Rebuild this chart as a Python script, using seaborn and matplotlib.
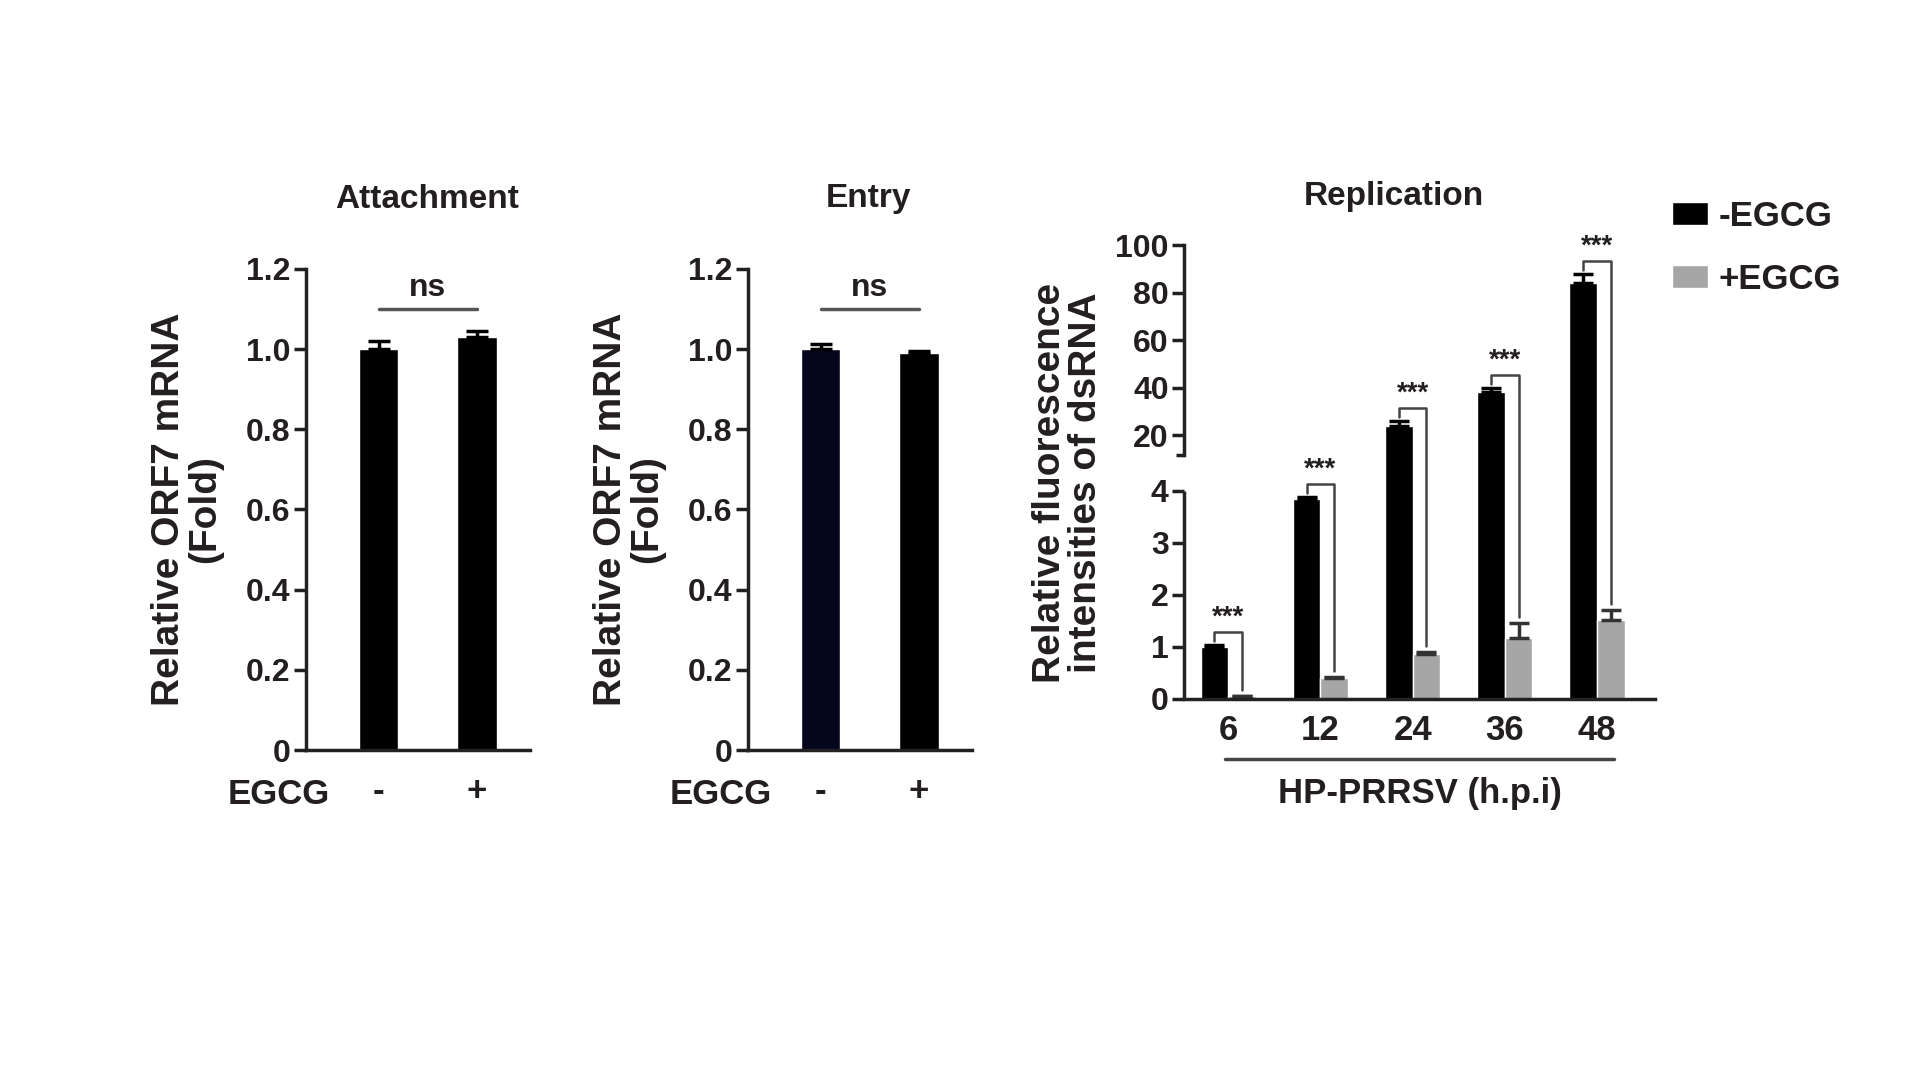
import numpy as np
import pandas as pd
import matplotlib
matplotlib.use("Agg")
import matplotlib.pyplot as plt
import seaborn as sns

# ---- data ----
egcg_levels = ["-", "+"]
attach_vals = [1.00, 1.03]
attach_err = [0.02, 0.015]
entry_vals = [1.00, 0.99]
entry_err = [0.012, 0.006]

hpi = ["6", "12", "24", "36", "48"]
minus_vals = [1.0, 3.84, 23.8, 38.0, 84.0]
minus_err = [0.04, 0.05, 2.2, 1.8, 4.0]
plus_vals = [0.05, 0.40, 0.86, 1.18, 1.51]
plus_err = [0.01, 0.03, 0.04, 0.28, 0.20]
treat_levels = ["-EGCG", "+EGCG"]

TXT = "#231f20"
GRAY = "#a6a6a6"
LW = 2.5

sns.set_style("ticks")
plt.rcParams["font.family"] = ["Liberation Sans", "DejaVu Sans"]
plt.rcParams["font.weight"] = "bold"
plt.rcParams["axes.labelweight"] = "bold"
plt.rcParams["text.color"] = TXT
plt.rcParams["axes.labelcolor"] = TXT
plt.rcParams["xtick.color"] = TXT
plt.rcParams["ytick.color"] = TXT

fig = plt.figure(figsize=(19.2, 10.8), dpi=100)


def style_axes(ax):
    sns.despine(ax=ax)
    for s in ("left", "bottom"):
        ax.spines[s].set_linewidth(LW)
        ax.spines[s].set_color("#222222")
    ax.tick_params(axis="y", length=9, width=LW, labelsize=23, pad=2)
    ax.tick_params(axis="x", length=0, labelsize=25)


def ns_panel(ax, vals, errs, colors, title):
    sns.barplot(x=egcg_levels, y=vals, hue=egcg_levels, palette=colors,
                width=0.4, saturation=1, legend=False, ax=ax)
    xs = [p.get_x() + p.get_width() / 2 for p in ax.patches]
    ax.errorbar(xs, vals, yerr=[np.zeros(len(vals)), errs], fmt="none",
                ecolor="black", elinewidth=LW, capsize=8, capthick=LW)
    ax.set_ylim(0, 1.2)
    ax.set_xlim(-0.74, 1.54)
    ax.set_yticks(np.arange(0, 1.21, 0.2))
    ax.set_yticklabels(["0" if v == 0 else f"{v:.1f}" for v in np.arange(0, 1.21, 0.2)])
    style_axes(ax)
    ax.tick_params(axis="x", pad=18)
    ax.set_ylabel("Relative ORF7 mRNA\n(Fold)", fontsize=28, linespacing=1.0)
    ax.yaxis.set_label_coords(-0.37, 0.5)
    ax.text(-0.12, -0.0915, "EGCG", transform=ax.transAxes, ha="center",
            va="center", fontsize=25)
    # ns bracket
    ax.plot(xs, [1.10, 1.10], color="#555555", lw=2.5, clip_on=False)
    ax.text(np.mean(xs), 1.115, "ns", ha="center", va="bottom", fontsize=23)
    bb = ax.get_position()
    fig.text(bb.x0 + bb.width * 0.54, 1 - 199 / 1080, title, ha="center",
             va="center", fontsize=24)


ax1 = fig.add_axes([306 / 1920, 1 - 750 / 1080, 224 / 1920, 481 / 1080])
ns_panel(ax1, attach_vals, attach_err, ["black", "black"], "Attachment")

ax2 = fig.add_axes([748 / 1920, 1 - 750 / 1080, 224 / 1920, 481 / 1080])
ns_panel(ax2, entry_vals, entry_err, ["#05051c", "black"], "Entry")

# ---- broken-axis replication panel (piecewise y scale, units = pixels) ----
BRK = 11.6


def fwd(y):
    y = np.asarray(y, float)
    return np.where(y <= 4, 52 * y,
                    np.where(y <= BRK, 208 + 36 * (y - 4) / (BRK - 4),
                             244 + (y - BRK) * 2.375))


def inv(p):
    p = np.asarray(p, float)
    return np.where(p <= 208, p / 52,
                    np.where(p <= 244, 4 + (p - 208) * (BRK - 4) / 36,
                             BRK + (p - 244) / 2.375))


ax3 = fig.add_axes([1184 / 1920, 1 - 699 / 1080, 471 / 1920, 470 / 1080])
ax3.set_yscale("function", functions=(fwd, inv))

df = pd.DataFrame({
    "hpi": hpi * 2,
    "value": minus_vals + plus_vals,
    "EGCG": [treat_levels[0]] * len(hpi) + [treat_levels[1]] * len(hpi),
})
sns.barplot(data=df, x="hpi", y="value", hue="EGCG", hue_order=treat_levels,
            palette=["black", GRAY], width=0.6, gap=0, saturation=1,
            errorbar=None, ax=ax3)

black_x = [b.get_x() + b.get_width() / 2 for b in ax3.containers[0]]
gray_x = [b.get_x() + b.get_width() / 2 for b in ax3.containers[1]]
ax3.errorbar(black_x, minus_vals, yerr=[np.zeros(5), minus_err], fmt="none",
             ecolor="black", elinewidth=LW, capsize=7, capthick=LW)
ax3.errorbar(gray_x, plus_vals, yerr=[np.zeros(5), plus_err], fmt="none",
             ecolor="#333333", elinewidth=LW, capsize=7, capthick=LW)

ax3.set_ylim(0, float(inv(470)))
ax3.set_xlim(-0.48, 4.63)
ax3.set_yticks([0, 1, 2, 3, 4, 20, 40, 60, 80, 100])
ax3.set_yticklabels(["0", "1", "2", "3", "4", "20", "40", "60", "80", "100"])
ax3.set_yticks([BRK], minor=True)
style_axes(ax3)
ax3.tick_params(axis="y", which="minor", length=6, width=LW)
ax3.tick_params(axis="x", labelsize=25, pad=11)
ax3.set_xlabel("")
ax3.spines["left"].set_bounds(BRK, 100)
ax3.plot([0, 0], [0, 4], transform=ax3.get_yaxis_transform(), color="#222222",
         lw=LW, clip_on=False, solid_capstyle="butt")
ax3.set_ylabel("Relative fluorescence\nintensities of dsRNA", fontsize=28,
               linespacing=1.0)
ax3.yaxis.set_label_coords(-0.17, 0.46)

# significance brackets
for i in range(len(hpi)):
    top_b = fwd(minus_vals[i] + minus_err[i])
    top_g = fwd(plus_vals[i] + plus_err[i])
    y_br = float(inv(top_b + 13))
    ax3.plot([black_x[i], black_x[i], gray_x[i], gray_x[i]],
             [float(inv(top_b + 4)), y_br, y_br, float(inv(top_g + 6))],
             color="#444444", lw=1.8, clip_on=False)
    ax3.annotate("***", xy=((black_x[i] + gray_x[i]) / 2, y_br), xytext=(0, 1),
                 textcoords="offset points", ha="center", va="bottom",
                 fontsize=20, annotation_clip=False)

# group line and axis caption under the tick labels
xtr = ax3.get_xaxis_transform()
ax3.plot([-0.03, 4.19], [-0.128, -0.128], transform=xtr, color="#444444",
         lw=2.5, clip_on=False)
ax3.text(2.08, -0.202, "HP-PRRSV (h.p.i)", transform=xtr, ha="center",
         va="center", fontsize=25)

fig.text(1394 / 1920, 1 - 197 / 1080, "Replication", ha="center", va="center",
         fontsize=24)

sns.move_legend(ax3, "upper left", bbox_to_anchor=(1672 / 1920, 1 - 200 / 1080),
                bbox_transform=fig.transFigure, frameon=False, title=None,
                fontsize=25, handlelength=1.05, handleheight=0.63,
                handletextpad=0.3, labelspacing=0.85, borderpad=0,
                borderaxespad=0)

fig.savefig("out.png", dpi=100)
